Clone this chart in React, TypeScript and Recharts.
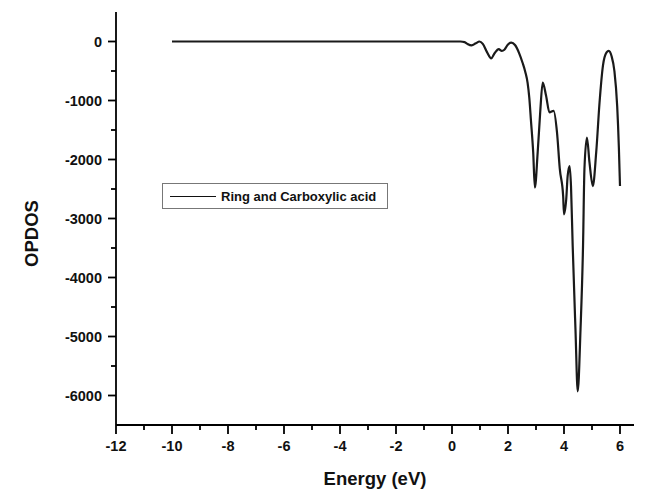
import { Legend, Line, LineChart, XAxis, YAxis } from "recharts"

// energy (eV) and OPDOS
const energy = [
  -10, -5, 0, 0.3, 0.45, 0.55, 0.7, 0.85, 0.98, 1.1, 1.25, 1.4, 1.52, 1.67,
  1.78, 1.87, 2.0, 2.12, 2.25, 2.4, 2.52, 2.62, 2.7, 2.76, 2.82, 2.9, 2.96,
  3.06, 3.15, 3.24, 3.36, 3.48, 3.63, 3.75, 3.85, 3.97, 4.0, 4.08, 4.13, 4.2,
  4.25, 4.31, 4.41, 4.49, 4.59, 4.68, 4.73, 4.82, 4.91, 5.03, 5.15, 5.27, 5.39,
  5.52, 5.6, 5.7, 5.8, 5.9, 5.96, 6.0,
]
const opdos = [
  0, 0, 0, 0, -10, -40, -65, -30, 0, -40, -180, -285, -200, -130,
  -160, -140, -50, -20, -60, -200, -360, -520, -700, -950, -1340, -1880, -2475,
  -1880, -1200, -695, -920, -1200, -1175, -1540, -2160, -2620, -2930, -2670, -2280, -2110,
  -2450, -3460, -4880, -5930, -4880, -3460, -2160, -1630, -2050, -2450, -1880, -1030, -413,
  -186, -158, -250, -500, -1100, -1800, -2450,
]

const xTicks = [
  -12, -11, -10, -9, -8, -7, -6, -5, -4, -3, -2, -1, 0, 1, 2, 3, 4, 5, 6,
]
const yTicks = [
  0, -500, -1000, -1500, -2000, -2500, -3000, -3500, -4000, -4500, -5000,
  -5500, -6000,
]

const seriesName = "Ring and Carboxylic acid"

const data = energy.map((e, i) => ({ e, v: opdos[i] }))

const font = "'Liberation Sans', Arial, sans-serif"

function XTick({ x, y, payload }: any) {
  const major = payload.value % 2 === 0
  return (
    <g>
      <line x1={x} x2={x} y1={y} y2={y + (major ? 9 : 5)} stroke="#000" strokeWidth={1.8} />
      {major && (
        <text x={x} y={y + 26} textAnchor="middle" fontSize={14.5} fontWeight="bold" fill="#111" fontFamily={font}>
          {payload.value}
        </text>
      )}
    </g>
  )
}

function YTick({ x, y, payload }: any) {
  const major = payload.value % 1000 === 0
  return (
    <g>
      <line x1={x} x2={x - (major ? 8 : 5)} y1={y} y2={y} stroke="#000" strokeWidth={1.8} />
      {major && (
        <text x={x - 14} y={y + 5} textAnchor="end" fontSize={14.5} fontWeight="bold" fill="#111" fontFamily={font}>
          {payload.value}
        </text>
      )}
    </g>
  )
}

function LegendBox() {
  return (
    <div
      style={{
        width: 226,
        height: 26,
        border: "1px solid #777",
        display: "flex",
        alignItems: "center",
        boxSizing: "border-box",
        fontFamily: font,
        fontWeight: "bold",
        fontSize: 13,
        color: "#111",
      }}
    >
      <span style={{ display: "inline-block", width: 46, borderTop: "1.6px solid #111", marginLeft: 7, marginRight: 5 }} />
      {seriesName}
    </div>
  )
}

export default function App() {
  return (
    <LineChart
      width={648}
      height={481}
      data={data}
      margin={{ top: 4, right: 22, bottom: 0, left: 0 }}
      style={{ fontFamily: font }}
    >
      <XAxis
        dataKey="e"
        type="number"
        domain={[-12, 6.5]}
        ticks={xTicks}
        interval={0}
        height={64}
        tickSize={0}
        tickMargin={0}
        tick={<XTick />}
        stroke="#000"
        strokeWidth={1.8}
        label={{
          value: "Energy (eV)",
          content: ({ viewBox }: any) => (
            <text
              x={viewBox.x + viewBox.width / 2}
              y={viewBox.y + 60}
              textAnchor="middle"
              fontSize={18.5}
              fontWeight="bold"
              fill="#111"
              fontFamily={font}
            >
              Energy (eV)
            </text>
          ),
        }}
      />
      <YAxis
        type="number"
        domain={[-6500, 500]}
        ticks={yTicks}
        interval={0}
        width={108}
        tickSize={0}
        tickMargin={0}
        tick={<YTick />}
        stroke="#000"
        strokeWidth={1.8}
        label={{
          value: "OPDOS",
          content: ({ viewBox }: any) => {
            const cx = 23
            const cy = viewBox.y + viewBox.height / 2 + 15
            return (
              <text
                x={cx}
                y={cy}
                transform={`rotate(-90 ${cx} ${cy})`}
                textAnchor="middle"
                dominantBaseline="central"
                fontSize={18.5}
                fontWeight="bold"
                fill="#111"
                fontFamily={font}
              >
                OPDOS
              </text>
            )
          },
        }}
      />
      <Legend
        layout="vertical"
        align="center"
        verticalAlign="middle"
        content={() => <LegendBox />}
        wrapperStyle={{ position: "absolute", left: 154, top: 175, width: 226, height: 26 }}
      />
      <Line
        type="monotone"
        dataKey="v"
        stroke="#1a1a1a"
        strokeWidth={2.2}
        dot={false}
        isAnimationActive={false}
      />
    </LineChart>
  )
}
